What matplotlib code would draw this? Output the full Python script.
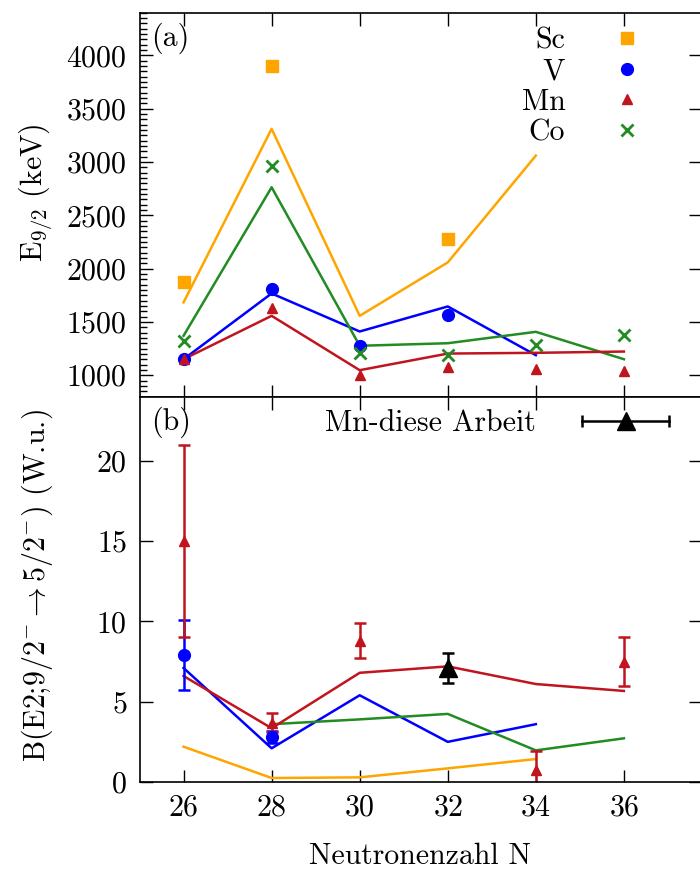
import matplotlib
matplotlib.use("Agg")
import matplotlib.pyplot as plt
from matplotlib.lines import Line2D
from matplotlib.legend_handler import HandlerLine2D, HandlerTuple
from matplotlib.ticker import MultipleLocator

plt.rcParams["font.family"] = "serif"
plt.rcParams["font.serif"] = ["cmr10", "DejaVu Serif"]
plt.rcParams["mathtext.fontset"] = "cm"
plt.rcParams["axes.formatter.use_mathtext"] = True
plt.rcParams["font.size"] = 21.5

SC = "#ffa500"
V = "#0000ff"
MN = "#c0141e"
CO = "#228b22"

N = [26, 28, 30, 32, 34, 36]

# ---- (a) E(9/2) experiment
sc_n_exp = [26, 28, 32]
sc_e_exp = [1870, 3905, 2280]
v_n_exp = [26, 28, 30, 32]
v_e_exp = [1150, 1808, 1276, 1567]
mn_e_exp = [1150, 1626, 1000, 1078, 1056, 1040]
co_e_exp = [1322, 2967, 1213, 1188, 1282, 1379]

# ---- (a) E(9/2) model
n_th_short = [26, 28, 30, 32, 34]
sc_e_th = [1683, 3311, 1557, 2058, 3060]
v_e_th = [1150, 1767, 1410, 1645, 1188]
mn_e_th = [1150, 1557, 1047, 1203, 1210, 1222]
co_e_th = [1370, 2763, 1276, 1300, 1407, 1150]

# ---- (b) B(E2) experiment
mn_n_be2 = [26, 28, 30, 34, 36]
mn_be2 = [15.0, 3.7, 8.8, 0.75, 7.5]
mn_be2_err = [6.0, 0.6, 1.1, 1.15, 1.5]
v_n_be2 = [26, 28]
v_be2 = [7.9, 2.8]
v_be2_err = [2.2, 0.4]
this_n = [32]
this_be2 = [7.1]
this_err = [0.95]

# ---- (b) B(E2) model
sc_be2_th = [2.2, 0.25, 0.29, 0.85, 1.43]
v_be2_th = [7.1, 2.1, 5.4, 2.5, 3.6]
mn_be2_th = [6.6, 3.35, 6.8, 7.2, 6.1, 5.67]
co_n_be2_th = [28, 30, 32, 34, 36]
co_be2_th = [3.6, 3.9, 4.24, 1.97, 2.72]

fig = plt.figure(figsize=(7, 8.69), dpi=100)
ax1 = fig.add_axes([0.1993, 0.5437, 0.8021, 0.4416])
ax2 = fig.add_axes([0.1993, 0.1001, 0.8021, 0.4436])

lw = 1.8
# (a)
ax1.plot(n_th_short, sc_e_th, color=SC, lw=lw)
ax1.plot(n_th_short, v_e_th, color=V, lw=lw)
ax1.plot(N, co_e_th, color=CO, lw=lw)
ax1.plot(N, mn_e_th, color=MN, lw=lw)
ax1.plot(sc_n_exp, sc_e_exp, ls="none", marker="s", ms=8, color=SC, label="Sc")
ax1.plot(v_n_exp, v_e_exp, ls="none", marker="o", ms=8.5, color=V, label="V")
ax1.plot(N, mn_e_exp, ls="none", marker="^", ms=7.5, color=MN, label="Mn")
ax1.plot(N, co_e_exp, ls="none", marker="x", ms=8.5, mew=2, color=CO, label="Co")

ax1.set_xlim(25, 37.75)
ax1.set_ylim(800, 4400)
ax1.set_yticks([1000, 1500, 2000, 2500, 3000, 3500, 4000])
ax1.yaxis.set_minor_locator(MultipleLocator(50))
ax1.set_xticks(N)
ax1.set_xticklabels([])
ax1.set_ylabel(r"E$_{9/2}$ (keV)")
ax1.yaxis.set_label_coords(-0.151, 0.53)
ax1.text(0.02, 0.975, "(a)", transform=ax1.transAxes, va="top", ha="left")
ax1.legend(loc="upper right", bbox_to_anchor=(0.9216, 0.962), frameon=False,
           markerfirst=False, handlelength=2, handletextpad=1.07, borderpad=0,
           borderaxespad=0, labelspacing=0.1, numpoints=1)

# (b)
ax2.plot(n_th_short, sc_be2_th, color=SC, lw=lw)
ax2.plot(n_th_short, v_be2_th, color=V, lw=lw)
ax2.plot(co_n_be2_th, co_be2_th, color=CO, lw=lw)
ax2.plot(N, mn_be2_th, color=MN, lw=lw)
ax2.errorbar(v_n_be2, v_be2, yerr=v_be2_err, ls="none", marker="o", ms=8.5,
             color=V, elinewidth=1.8, capsize=4, capthick=1.8)
ax2.errorbar(mn_n_be2, mn_be2, yerr=mn_be2_err, ls="none", marker="^", ms=7.5,
             color=MN, elinewidth=1.8, capsize=4, capthick=1.8)
ax2.errorbar(this_n, this_be2, yerr=this_err, ls="none", marker="^", ms=13,
             color="k", elinewidth=1.8, capsize=4, capthick=1.8)

cap_h = Line2D([], [], color="k", lw=1.8, marker="|", ms=9, mew=1.8)
tri_h = Line2D([], [], color="k", ls="none", marker="^", ms=13)
ax2.legend([(cap_h, tri_h)], ["Mn-diese Arbeit"], loc="upper right",
           bbox_to_anchor=(0.943, 0.965), frameon=False, markerfirst=False,
           handlelength=2.9, handletextpad=1.55, borderpad=0, borderaxespad=0,
           handler_map={cap_h: HandlerLine2D(numpoints=2, marker_pad=0),
                        tri_h: HandlerLine2D(numpoints=1),
                        tuple: HandlerTuple(ndivide=1)})

ax2.set_xlim(25, 37.75)
ax2.set_ylim(0, 24)
ax2.set_yticks([0, 5, 10, 15, 20])
ax2.set_xticks(N)
ax2.set_xlabel("Neutronenzahl N", labelpad=15)
ax2.set_ylabel(r"B(E2;9/2$^{-}\rightarrow$5/2$^{-}$) (W.u.)")
ax2.yaxis.set_label_coords(-0.151, 0.51)
ax2.text(0.02, 0.975, "(b)", transform=ax2.transAxes, va="top", ha="left")

for ax in (ax1, ax2):
    ax.tick_params(which="major", direction="in", length=9, width=1,
                   top=True, right=True, pad=9)
    ax.tick_params(which="minor", direction="in", length=5, width=1,
                   left=True, right=False, top=False, bottom=False)
    for s in ax.spines.values():
        s.set_linewidth(1.2)

fig.savefig("out.png", dpi=100)
